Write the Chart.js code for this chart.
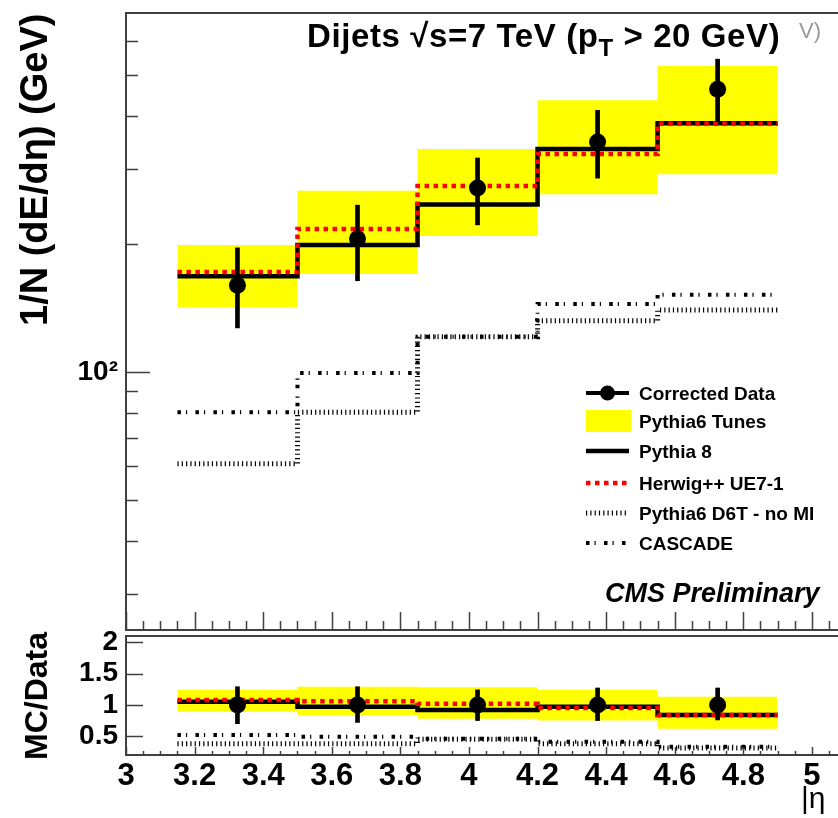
<!DOCTYPE html>
<html>
<head>
<meta charset="utf-8">
<script src="https://cdn.jsdelivr.net/npm/chart.js@4.4.1/dist/chart.umd.min.js"></script>
<style>
  html, body { margin: 0; padding: 0; background: #fff; }
  body { width: 838px; height: 818px; position: relative; overflow: hidden;
         font-family: "Liberation Sans", Arial, Helvetica, sans-serif; }
  canvas { position: absolute; left: 0; }
  #mainPad { top: 0; }
  #ratioPad { top: 600px; }
  .txt { position: absolute; white-space: nowrap; font-weight: bold; color: #000; }
  #title { left: 307px; top: 19px; font-size: 33px; line-height: 33px; letter-spacing: 0.6px; }
  #title .sub { font-size: 24px; position: relative; top: 9px; }
  #ghost { left: 799px; top: 20px; font-size: 22px; line-height: 22px; font-weight: normal; color: #999; }
  .vtitle { transform-origin: 0 0; transform: rotate(-90deg); }
  #ytitle { left: 15px; top: 326px; font-size: 38px; line-height: 38px; }
  #rtitle { left: 20px; top: 760px; font-size: 32px; line-height: 32px; }
  #cms { left: 605px; top: 580px; font-size: 27px; line-height: 27px; font-style: italic; }
  #eta { left: 801px; top: 783px; font-size: 30px; line-height: 30px; font-weight: normal; }
  .leg { left: 639px; font-size: 19px; line-height: 19px; }
</style>
</head>
<body>
<canvas id="mainPad" width="838" height="640"></canvas>
<canvas id="ratioPad" width="838" height="218"></canvas>
<div id="title" class="txt">Dijets √s=7 TeV (p<span class="sub">T</span> &gt; 20 GeV)</div>
<div id="ghost" class="txt">V)</div>
<div id="ytitle" class="txt vtitle">1/N (dE/dη) (GeV)</div>
<div id="rtitle" class="txt vtitle">MC/Data</div>
<div id="cms" class="txt">CMS Preliminary</div>
<div id="eta" class="txt">|η</div>
<script>
// eta binning
const binEdges = [3.15, 3.5, 3.85, 4.2, 4.55, 4.9];
const binCenters = [3.325, 3.675, 4.025, 4.375, 4.725];

// energy flow 1/N dE/deta (GeV)
const dataValues = [160, 206, 271, 348, 463];
const dataErrLow = [127, 164, 222, 286, 389];
const dataErrHigh = [196, 247, 319, 413, 545];
const tunesLow = [142, 170, 209, 262, 292];
const tunesHigh = [199, 267, 335, 436, 525];
const pythia8 = [168, 199, 248, 335, 385];
const herwig = [172, 217, 274, 326, 384];
const d6tNoMI = [60.8, 80.4, 121, 132, 140];
const cascade = [80.4, 99.5, 121, 144.5, 152];

// MC / data
const ratioData = [1, 1, 1, 1, 1];
const ratioErrLow = [0.70, 0.72, 0.75, 0.75, 0.76];
const ratioErrHigh = [1.29, 1.29, 1.24, 1.27, 1.27];
const ratioTunesLow = [0.89, 0.84, 0.78, 0.75, 0.62];
const ratioTunesHigh = [1.24, 1.29, 1.28, 1.24, 1.13];
const ratioPythia8 = [1.05, 0.97, 0.92, 0.97, 0.84];
const ratioHerwig = [1.08, 1.06, 1.02, 0.95, 0.84];
const ratioD6T = [0.38, 0.38, 0.45, 0.38, 0.31];
const ratioCascade = [0.52, 0.49, 0.46, 0.41, 0.33];

// axes
const xMin = 3, xMax = 5.076;
const xMajor = [3, 3.2, 3.4, 3.6, 3.8, 4, 4.2, 4.4, 4.6, 4.8, 5];
const xTickLabels = ['3', '3.2', '3.4', '3.6', '3.8', '4', '4.2', '4.4', '4.6', '4.8', '5'];
const yMajor = [100];
const yTickLabels = ['10²'];
const yMinor = [30, 40, 50, 60, 70, 80, 90, 200, 300, 400, 500, 600];
const ratioTicks = [0.5, 1, 1.5, 2];
const ratioTickLabels = ['0.5', '1', '1.5', '2'];

// minor x ticks every 0.05
const xMinor = [];
for (let k = 1; k <= 41; k++) if (k % 4) xMinor.push(+(3 + k * 0.05).toFixed(2));

const legendRows = [
  ['Corrected Data', 393],
  ['Pythia6 Tunes', 421],
  ['Pythia 8', 451],
  ['Herwig++ UE7-1', 483],
  ['Pythia6 D6T - no MI', 513],
  ['CASCADE', 543]
];

Chart.defaults.font.family = '"Liberation Sans", Arial, Helvetica, sans-serif';
Chart.defaults.font.weight = 'bold';
Chart.defaults.color = '#000';

const YELLOW = '#ffff00';
const lineStyles = {
  'Pythia 8': { borderColor: '#000', borderWidth: 4.5 },
  'Herwig++ UE7-1': { borderColor: '#ff0000', borderWidth: 4.5, borderDash: [4.5, 4.5] },
  'Pythia6 D6T - no MI': { borderColor: '#000', borderWidth: 5, borderDash: [1.2, 3.1] },
  'CASCADE': { borderColor: '#000', borderWidth: 4, borderDash: [3.5, 5, 1.2, 8.3] }
};

// histogram values -> points on bin edges (last value repeated at the right edge)
const stepPoints = vals => binEdges.map((x, i) => ({ x, y: vals[Math.min(i, vals.length - 1)] }));
const centerPoints = vals => binCenters.map((x, i) => ({ x, y: vals[i] }));
const rangePoints = (lo, hi) => binCenters.map((x, i) => ({ x, y: [lo[i], hi[i]] }));

function stepLine(label, vals, order) {
  return Object.assign({ type: 'line', label, data: stepPoints(vals), stepped: true,
    pointRadius: 0, fill: false, order }, lineStyles[label]);
}

function buildDatasets(s) {
  return [
    { type: 'line', label: 'Corrected Data', data: centerPoints(s.data), showLine: false,
      pointRadius: 8.5, pointBackgroundColor: '#000', pointBorderWidth: 0, order: 1 },
    { type: 'bar', label: 'errors', data: rangePoints(s.errLo, s.errHi),
      backgroundColor: '#000', barThickness: 4, order: 2 },
    stepLine('Herwig++ UE7-1', s.herwig, 3),
    stepLine('Pythia 8', s.pythia8, 4),
    stepLine('Pythia6 D6T - no MI', s.d6t, 5),
    stepLine('CASCADE', s.cascade, 6),
    { type: 'line', label: 'Pythia6 Tunes', data: stepPoints(s.tunesHi), stepped: true,
      pointRadius: 0, borderWidth: 0, borderColor: 'rgba(0,0,0,0)', backgroundColor: YELLOW,
      fill: '+1', order: 7 },
    { type: 'line', label: 'tunes-low', data: stepPoints(s.tunesLo), stepped: true,
      pointRadius: 0, borderWidth: 0, borderColor: 'rgba(0,0,0,0)', fill: false, order: 8 }
  ];
}

// frame on left/top/bottom with inward ticks
const framePlugin = {
  id: 'frameTicks',
  afterDraw(chart, args, o) {
    const { ctx, chartArea: a, scales: { x, y } } = chart;
    ctx.save();
    ctx.strokeStyle = '#404040';
    ctx.lineWidth = 2;
    ctx.beginPath();
    ctx.moveTo(a.right + 4, a.top);
    ctx.lineTo(a.left, a.top);
    ctx.lineTo(a.left, a.bottom);
    ctx.lineTo(a.right + 4, a.bottom);
    ctx.stroke();
    ctx.lineWidth = 1.5;
    ctx.beginPath();
    const yt = (vals, len) => vals.forEach(v => {
      const py = Math.round(y.getPixelForValue(v)) + 0.5;
      ctx.moveTo(a.left, py); ctx.lineTo(a.left + len, py);
    });
    const xt = (vals, len) => vals.forEach(v => {
      const px = Math.round(x.getPixelForValue(v)) + 0.5;
      ctx.moveTo(px, a.bottom); ctx.lineTo(px, a.bottom - len);
    });
    yt(o.yMajor, o.yMajorLen);
    yt(o.yMinor, o.yMinorLen);
    xt(o.xMajor, o.xMajorLen);
    xt(o.xMinor, o.xMinorLen);
    ctx.stroke();
    ctx.restore();
  }
};

// legend symbols, styled from the datasets themselves
const legendPlugin = {
  id: 'legendSymbols',
  afterDraw(chart) {
    const { ctx } = chart;
    const x0 = 586, x1 = 629;
    ctx.save();
    legendRows.forEach(([label, y]) => {
      const ds = chart.data.datasets.find(d => d.label === label);
      ctx.setLineDash([]);
      if (label === 'Corrected Data') {
        ctx.strokeStyle = '#000'; ctx.lineWidth = 4;
        ctx.beginPath(); ctx.moveTo(x0, y); ctx.lineTo(x1, y); ctx.stroke();
        ctx.fillStyle = '#000';
        ctx.beginPath(); ctx.arc((x0 + x1) / 2, y, 7.5, 0, Math.PI * 2); ctx.fill();
      } else if (label === 'Pythia6 Tunes') {
        ctx.fillStyle = ds.backgroundColor;
        ctx.fillRect(x0, y - 11, 45, 22);
      } else {
        ctx.strokeStyle = ds.borderColor; ctx.lineWidth = ds.borderWidth;
        ctx.setLineDash(ds.borderDash || []);
        ctx.beginPath(); ctx.moveTo(x0, y); ctx.lineTo(x1, y); ctx.stroke();
      }
    });
    ctx.restore();
  }
};

const noGrid = { display: false, drawTicks: false, offset: false };
// keep the plot frame where the layout puts it: no label overhang padding
const fixWidth = w => s => { s.width = w; s.paddingTop = 0; s.paddingBottom = 0; };
const fixHeight = h => s => { s.height = h; s.paddingLeft = 0; s.paddingRight = 0; };

new Chart(document.getElementById('mainPad'), {
  type: 'line',
  data: { datasets: buildDatasets({
    data: dataValues, errLo: dataErrLow, errHi: dataErrHigh,
    tunesLo: tunesLow, tunesHi: tunesHigh, pythia8, herwig, d6t: d6tNoMI, cascade
  }) },
  options: {
    responsive: false, animation: false, events: [],
    layout: { autoPadding: false, padding: { top: 13, right: 0, bottom: 10, left: 0 } },
    plugins: {
      legend: { display: false }, tooltip: { enabled: false },
      frameTicks: { yMajor, yMajorLen: 24, yMinor, yMinorLen: 12,
                    xMajor, xMajorLen: 18, xMinor, xMinorLen: 9 }
    },
    scales: {
      x: { type: 'linear', min: xMin, max: xMax, offset: false, grid: noGrid, display: false },
      y: {
        type: 'logarithmic', min: 24.7, max: 700,
        afterFit: fixWidth(126),
        afterBuildTicks: s => { s.ticks = yMajor.map(v => ({ value: v })); },
        ticks: { callback: (v, i) => yTickLabels[i], padding: 8, autoSkip: false,
                 font: { size: 28, weight: 'bold' } },
        grid: noGrid, border: { display: false }
      }
    }
  },
  plugins: [framePlugin, legendPlugin]
});

new Chart(document.getElementById('ratioPad'), {
  type: 'line',
  data: { datasets: buildDatasets({
    data: ratioData, errLo: ratioErrLow, errHi: ratioErrHigh,
    tunesLo: ratioTunesLow, tunesHi: ratioTunesHigh, pythia8: ratioPythia8,
    herwig: ratioHerwig, d6t: ratioD6T, cascade: ratioCascade
  }) },
  options: {
    responsive: false, animation: false, events: [],
    layout: { autoPadding: false, padding: { top: 36, right: 0, bottom: 0, left: 0 } },
    plugins: {
      legend: { display: false }, tooltip: { enabled: false },
      frameTicks: { yMajor: ratioTicks, yMajorLen: 17, yMinor: [], yMinorLen: 0,
                    xMajor, xMajorLen: 8, xMinor, xMinorLen: 4 }
    },
    scales: {
      x: {
        type: 'linear', min: xMin, max: xMax, offset: false,
        afterFit: fixHeight(63),
        afterBuildTicks: s => { s.ticks = xMajor.map(v => ({ value: v })); },
        ticks: { callback: (v, i) => xTickLabels[i], padding: 3, maxRotation: 0, autoSkip: false,
                 font: { size: 31, weight: 'bold' } },
        grid: noGrid, border: { display: false }
      },
      y: {
        type: 'linear', min: 0.2, max: 2.1,
        afterFit: fixWidth(126),
        afterBuildTicks: s => { s.ticks = ratioTicks.map(v => ({ value: v })); },
        ticks: { callback: (v, i) => ratioTickLabels[i], padding: 8, autoSkip: false,
                 font: { size: 28, weight: 'bold' } },
        grid: noGrid, border: { display: false }
      }
    }
  },
  plugins: [framePlugin]
});

// legend labels
legendRows.forEach(([label, y]) => {
  const d = document.createElement('div');
  d.className = 'txt leg';
  d.style.top = (y - 9.5) + 'px';
  d.textContent = label;
  document.body.appendChild(d);
});
</script>
</body>
</html>
